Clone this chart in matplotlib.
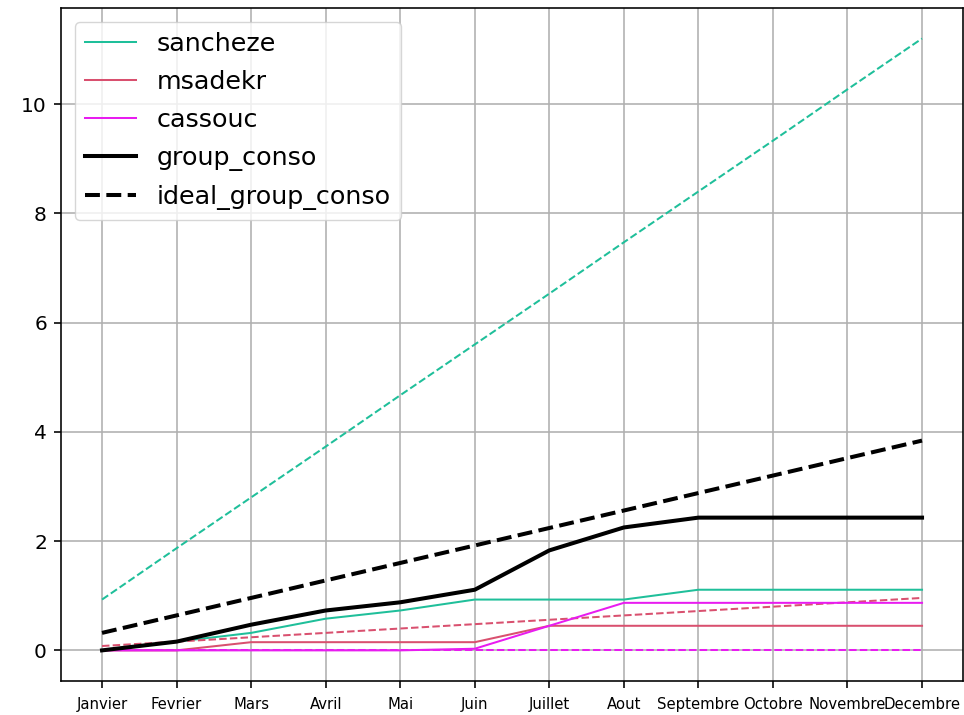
import matplotlib
matplotlib.use("Agg")
import matplotlib.pyplot as plt

months = ["Janvier", "Fevrier", "Mars", "Avril", "Mai", "Juin", "Juillet",
          "Aout", "Septembre", "Octobre", "Novembre", "Decembre"]

# cumulative consumption per member
sancheze = [0.00, 0.16, 0.32, 0.58, 0.73, 0.93, 0.93, 0.93, 1.11, 1.11, 1.11, 1.11]
msadekr = [0.00, 0.00, 0.15, 0.15, 0.15, 0.15, 0.45, 0.45, 0.45, 0.45, 0.45, 0.45]
cassouc = [0.00, 0.00, 0.00, 0.00, 0.00, 0.03, 0.45, 0.87, 0.87, 0.87, 0.87, 0.87]

# ideal (budget) consumption per member
ideal_sancheze = [0.93, 1.87, 2.80, 3.73, 4.67, 5.60, 6.53, 7.47, 8.40, 9.33, 10.27, 11.20]
ideal_msadekr = [0.08, 0.16, 0.24, 0.32, 0.40, 0.48, 0.56, 0.64, 0.72, 0.80, 0.88, 0.96]
ideal_cassouc = [0.00, 0.00, 0.00, 0.00, 0.00, 0.00, 0.00, 0.00, 0.00, 0.00, 0.00, 0.00]

group_conso = [0.00, 0.16, 0.47, 0.73, 0.88, 1.11, 1.83, 2.25, 2.43, 2.43, 2.43, 2.43]
ideal_group_conso = [0.32, 0.64, 0.96, 1.28, 1.60, 1.92, 2.24, 2.56, 2.88, 3.20, 3.52, 3.84]

members = [
    ("sancheze", sancheze, ideal_sancheze, "#1fbf9a"),
    ("msadekr", msadekr, ideal_msadekr, "#d9506f"),
    ("cassouc", cassouc, ideal_cassouc, "#e81cf0"),
]

S = 1.45  # overall scale for sizes

fig = plt.figure(figsize=(9.64, 7.15), dpi=100)
ax = fig.add_axes([0.0633, 0.0476, 0.9357, 0.9413])

x = list(range(len(months)))
for name, real, ideal, color in members:
    ax.plot(x, real, color=color, lw=1.0 * S, label=name)
    ax.plot(x, ideal, color=color, lw=1.0 * S, ls="--")

ax.plot(x, group_conso, color="black", lw=2.0 * S, label="group_conso")
ax.plot(x, ideal_group_conso, color="black", lw=2.0 * S, ls="--",
        label="ideal_group_conso")

ax.set_xticks(x)
ax.set_xticklabels(months, fontsize=10.7)
ax.set_yticks([0, 2, 4, 6, 8, 10])
ax.tick_params(axis="y", labelsize=10 * S)
ax.tick_params(axis="both", length=3.5 * S, width=0.8 * S, pad=3.5 * S)
ax.tick_params(axis="x", pad=4.5 * S)
ax.grid(True, color="#b0b0b0", lw=0.8 * S)
for sp in ax.spines.values():
    sp.set_linewidth(0.8 * S)

ax.legend(loc="upper left", fontsize=18.3, borderaxespad=0.55,
          labelspacing=0.55)

fig.savefig("out.png", dpi=100)
